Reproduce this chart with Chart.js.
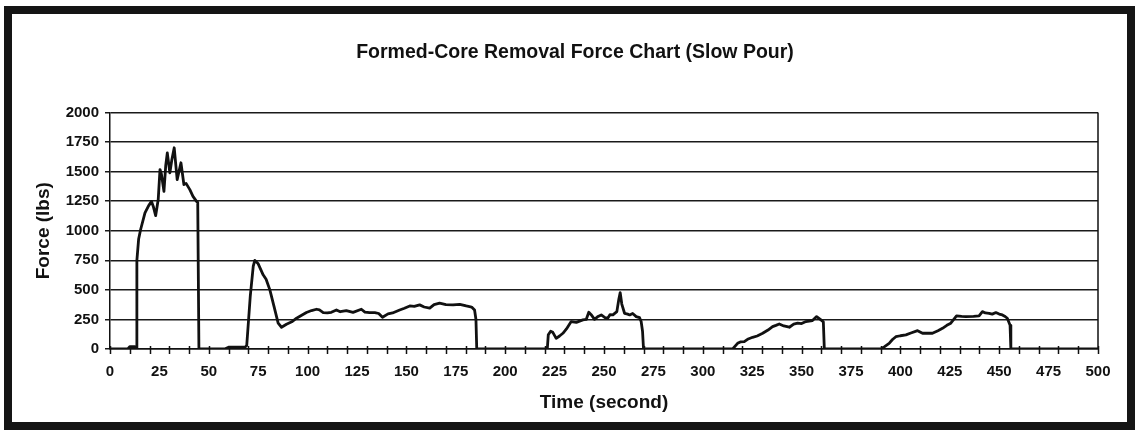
<!DOCTYPE html>
<html>
<head>
<meta charset="utf-8">
<script src="https://cdn.jsdelivr.net/npm/chart.js@4.4.0/dist/chart.umd.min.js"></script>
<style>
  body { margin: 0; background: #fff; }
  #wrap { position: relative; width: 1139px; height: 432px; }
  #marco { position: absolute; left: 4px; top: 6px; width: 1115px; height: 408px; border: 8px solid #151515; pointer-events: none; }
  canvas { position: absolute; left: 0; top: 0; }
</style>
</head>
<body>
<div id="wrap">
  <canvas id="myChart" width="1139" height="432"></canvas>
  <div id="marco"></div>
</div>
<script>
// datos (tiempo en segundos, fuerza en lbs)
const tiempo = [
  0, 9, 10, 12.5, 13.2, 13.6, 14.5, 15.5, 17.7, 19.5, 21, 22, 23.1, 24.4, 25.3, 26, 27.3, 28.2, 29, 30.3,
  31.3, 32.5, 34, 35.9, 37.4, 38.5, 40.4, 42, 43.8, 44.4, 45,
  58, 60, 68.5, 69.2, 71, 72.5, 73.3, 75, 77.5, 79, 80.9, 83, 85.1, 86.8, 89.3, 92, 94.4, 97, 99.4,
  102, 104.5, 106, 107.9, 110, 112, 114.6, 116.5, 119.6, 123, 127.2, 129, 131.4, 134, 136, 137.9, 140.7, 143, 146.6, 149,
  151.7, 154, 156.7, 159, 161.8, 164, 166.8, 170, 173.6, 177, 180.3, 183, 184.5, 185.2, 185.6,
  221.3, 221.8, 223, 224.1, 225.8, 227.5, 229.2, 231, 233.4, 236, 239.3, 241, 242.3, 243.5, 245.2, 247, 248.6, 250.5, 251.9, 253,
  254.5, 256.5, 257.5, 258.2, 259, 260.4, 262, 263, 264.5, 266.3, 268, 268.8, 269.5, 270,
  315.1, 317.6, 319, 321, 323, 325.2, 327.5, 330.3, 333, 335.3, 337, 338.7, 341, 343.8, 346, 348, 350, 352.2, 355.5, 357.6,
  359.8, 361, 361.5,
  390.1, 392, 394.3, 396, 397.7, 400, 402.8, 405.3, 408.7, 411.2, 416.2, 419, 421.3, 423.5, 425.5, 427, 428.4, 431, 433.1, 437,
  439.8, 441.5, 443, 444.9, 446.5, 448.3, 450, 451.6, 453, 454.1, 455.5, 455.9, 500
];
const fuerza = [
  0, 0, 20, 20, 10, 750, 930, 1010, 1150, 1210, 1248, 1200, 1127, 1263, 1517, 1480, 1333, 1550, 1658, 1489,
  1600, 1701, 1432, 1574, 1390, 1400, 1347, 1290, 1248, 1240, 0,
  0, 15, 18, 30, 450, 700, 749, 720, 627, 590, 500, 360, 218, 184, 209, 230, 260, 285, 308,
  325, 336, 330, 308, 305, 310, 330, 315, 325, 310, 336, 312, 308, 308, 300, 268, 297, 305, 330, 345,
  364, 360, 373, 355, 345, 375, 387, 375, 373, 378, 364, 355, 330, 250, 0,
  0, 120, 150, 141, 90, 110, 133, 170, 232, 225, 246, 250, 311, 290, 251, 275, 288, 265, 260, 290,
  288, 316, 420, 477, 380, 302, 295, 288, 300, 274, 265, 232, 150, 0,
  0, 48, 60, 62, 85, 99, 110, 133, 160, 189, 200, 212, 195, 184, 210, 218, 215, 232, 240, 274,
  246, 230, 0,
  0, 20, 48, 80, 104, 112, 119, 135, 155, 133, 133, 155, 175, 200, 218, 250, 280, 275, 274, 276,
  280, 316, 305, 302, 295, 308, 295, 288, 275, 260, 200, 0, 0
];
const xTicks = [0, 25, 50, 75, 100, 125, 150, 175, 200, 225, 250, 275, 300, 325, 350, 375, 400, 425, 450, 475, 500];
const yTicks = [0, 250, 500, 750, 1000, 1250, 1500, 1750, 2000];

const puntos = tiempo.map((t, i) => ({ x: t, y: fuerza[i] }));
const fuente = "Arial, 'Liberation Sans', sans-serif";

// marco derecho y marcas menores del eje x
const marcas = {
  id: 'marcas',
  afterDraw(chart) {
    const ctx = chart.ctx;
    const area = chart.chartArea;
    const sx = chart.scales.x;
    ctx.save();
    ctx.strokeStyle = '#111';
    ctx.lineWidth = 1.5;
    ctx.beginPath();
    ctx.moveTo(area.right, area.top);
    ctx.lineTo(area.right, area.bottom);
    for (let v = 0; v <= 500; v += 10) {
      const px = Math.round(sx.getPixelForValue(v)) + 0.5;
      ctx.moveTo(px, area.bottom - 3);
      ctx.lineTo(px, area.bottom + 5);
    }
    ctx.stroke();
    ctx.restore();
  }
};

const ctx = document.getElementById('myChart').getContext('2d');
const myChart = new Chart(ctx, {
  type: 'line',
  data: {
    datasets: [{
      label: 'Force',
      data: puntos,
      borderColor: '#111',
      borderWidth: 2.8,
      borderJoinStyle: 'round',
      borderCapStyle: 'round',
      pointRadius: 0,
      tension: 0,
      fill: false
    }]
  },
  options: {
    responsive: false,
    animation: false,
    layout: { padding: { left: 11, right: 0, top: 0, bottom: 0 } },
    plugins: {
      legend: { display: false },
      tooltip: { enabled: false },
      title: {
        display: true,
        text: 'Formed-Core Removal Force Chart (Slow Pour)',
        color: '#111',
        font: { family: fuente, size: 19.5, weight: 'bold' },
        padding: { top: 41, bottom: 48 }
      }
    },
    scales: {
      x: {
        type: 'linear',
        min: 0,
        max: 500,
        afterBuildTicks: s => { s.ticks = xTicks.map(v => ({ value: v })); },
        afterFit: s => { s.height = 83; },
        grid: { display: false, drawTicks: false },
        border: { display: true, color: '#111', width: 1.5 },
        ticks: {
          color: '#111',
          padding: 14,
          maxRotation: 0,
          autoSkip: false,
          font: { family: fuente, size: 15, weight: 'bold' }
        },
        title: {
          display: true,
          text: 'Time (second)',
          color: '#111',
          font: { family: fuente, size: 19, weight: 'bold' },
          padding: { top: 0, bottom: 18 }
        }
      },
      y: {
        min: 0,
        max: 2000,
        afterBuildTicks: s => { s.ticks = yTicks.map(v => ({ value: v })); },
        afterFit: s => { s.width = 99; },
        grid: { color: '#1a1a1a', lineWidth: 1.5, tickLength: 5 },
        border: { display: true, color: '#111', width: 1.5 },
        ticks: {
          color: '#111',
          padding: 6,
          callback: v => String(v),
          font: { family: fuente, size: 15, weight: 'bold' }
        },
        title: {
          display: true,
          text: 'Force (lbs)',
          color: '#111',
          font: { family: fuente, size: 19, weight: 'bold' },
          padding: { top: 21, bottom: 0 }
        }
      },
      derecha: {
        position: 'right',
        display: true,
        afterFit: s => { s.width = 41; },
        ticks: { display: false },
        grid: { display: false, drawTicks: false },
        border: { display: false }
      }
    }
  },
  plugins: [marcas]
});
</script>
</body>
</html>
